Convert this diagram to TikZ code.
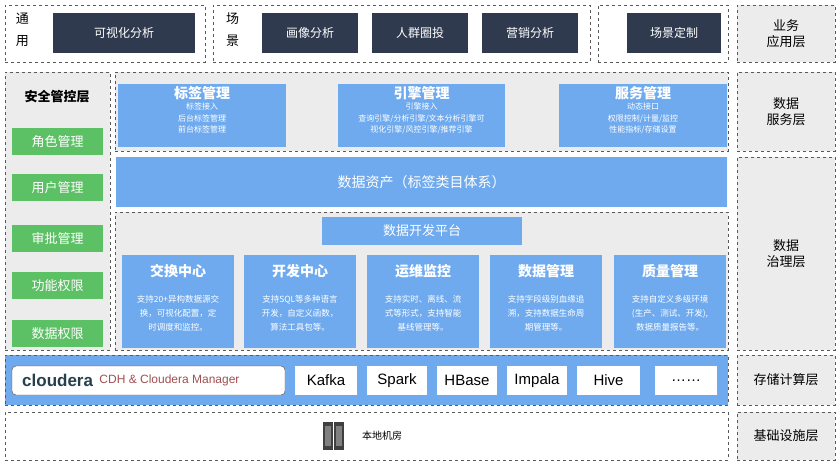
\documentclass[tikz,border=0pt]{standalone}
\usepackage{fontspec}
\setmainfont{Noto Sans CJK SC}
\newfontfamily\latinf{Liberation Sans}
\begin{document}
\begin{tikzpicture}[x=1pt,y=-1pt,
 box/.style={anchor=north west,inner sep=0pt,outer sep=0pt,align=center},
 dbox/.style={box,draw=gray!70!black,dashed,line width=0.6pt},
 layer/.style={dbox,fill=gray!15,font=\fontsize{13}{16}\selectfont},
 navy/.style={box,fill={rgb,255:red,47;green,58;blue,79},text=white,font=\fontsize{12}{14}\selectfont},
 bluebox/.style={box,fill={rgb,255:red,111;green,170;blue,239},text=white},
 green/.style={box,fill={rgb,255:red,92;green,192;blue,101},text=white,font=\fontsize{13}{16}\selectfont},
 ttl/.style={anchor=north,inner sep=0pt,text=white,align=center,font=\fontsize{14}{16}\selectfont\bfseries},
 sub/.style={anchor=north,inner sep=0pt,text=white,align=center,font=\fontsize{8}{11.5}\selectfont},
 wbox/.style={box,fill=white,font=\latinf\fontsize{15}{18}\selectfont}]
\useasboundingbox (0,0) rectangle (840,464);
% top row
\node[dbox,minimum width=200,minimum height=57] (g1) at (5,5) {};
\node[box,font=\fontsize{13}{16}\selectfont] (t1) at (16,13) {通\\[6pt]用};
\node[navy,minimum width=142,minimum height=40] (v) at (53,13) {可视化分析};
\node[dbox,minimum width=377,minimum height=57] (g2) at (213,5) {};
\node[box,font=\fontsize{13}{16}\selectfont] (t2) at (226,13) {场\\[6pt]景};
\node[navy,minimum width=96,minimum height=40] (p1) at (262,13) {画像分析};
\node[navy,minimum width=96,minimum height=40] (p2) at (372,13) {人群圈投};
\node[navy,minimum width=96,minimum height=40] (p3) at (482,13) {营销分析};
\node[dbox,minimum width=130,minimum height=57] (g3) at (598,5) {};
\node[navy,minimum width=94,minimum height=40] (p4) at (627,13) {场景定制};
\node[layer,minimum width=98,minimum height=57] (L1) at (737,5) {业务\\应用层};
% left security
\node[dbox,fill=gray!15,minimum width=105,minimum height=278] (sec) at (5,72) {};
\node[box,font=\bfseries\fontsize{13}{16}\selectfont,anchor=center] (sect) at (57,97) {安全管控层};
\node[green,minimum width=91,minimum height=27] (s1) at (12,128) {角色管理};
\node[green,minimum width=91,minimum height=27] (s2) at (12,174) {用户管理};
\node[green,minimum width=91,minimum height=27] (s3) at (12,225) {审批管理};
\node[green,minimum width=91,minimum height=27] (s4) at (12,272) {功能权限};
\node[green,minimum width=91,minimum height=27] (s5) at (12,320) {数据权限};
% service layer
\node[dbox,fill=gray!15,minimum width=613,minimum height=79] (svc) at (115,72) {};
\node[bluebox,minimum width=168,minimum height=63] (b1) at (118,84) {};
\node[ttl] (b1t) at ([yshift=-2]b1.north) {标签管理};
\node[sub] at ([yshift=-3]b1t.south) {标签接入\\后台标签管理\\前台标签管理};
\node[bluebox,minimum width=167,minimum height=63] (b2) at (338,84) {};
\node[ttl] (b2t) at ([yshift=-2]b2.north) {引擎管理};
\node[sub] at ([yshift=-3]b2t.south) {引擎接入\\查询引擎/分析引擎/文本分析引擎可\\视化引擎/风控引擎/推荐引擎};
\node[bluebox,minimum width=168,minimum height=63] (b3) at (559,84) {};
\node[ttl] (b3t) at ([yshift=-2]b3.north) {服务管理};
\node[sub] at ([yshift=-3]b3t.south) {动态接口\\权限控制/计量/监控\\性能指标/存储设置};
\node[layer,minimum width=98,minimum height=79] (L2) at (737,72) {数据\\服务层};
% data asset
\node[bluebox,minimum width=611,minimum height=50,font=\fontsize{14}{16}\selectfont] (da) at (116,157) {数据资产（标签类目体系）};
% governance
\node[dbox,fill=gray!15,minimum width=613,minimum height=138] (gov) at (115,212) {};
\node[bluebox,minimum width=200,minimum height=28,font=\fontsize{13}{15}\selectfont] (dev) at (322,217) {数据开发平台};
\foreach \x/\nm/\t/\d in {122/c1/交换中心/{支持20+异构数据源交\\换，可视化配置，定\\时调度和监控。},
  244/c2/开发中心/{支持SQL等多种语言\\开发，自定义函数，\\算法工具包等。},
  367/c3/运维监控/{支持实时、离线、流\\式等形式，支持智能\\基线管理等。},
  490/c4/数据管理/{支持字段级别血缘追\\溯，支持数据生命周\\期管理等。},
  614/c5/质量管理/{支持自定义多级环境\\(生产、测试、开发),\\数据质量报告等。}}{
 \node[bluebox,minimum width=112,minimum height=93] (\nm) at (\x,255) {};
 \node[ttl,font=\fontsize{14}{16}\selectfont\bfseries] at ([yshift=-9]\nm.north) {\t};
 \node[sub,font=\fontsize{8.5}{14}\selectfont] at ([yshift=-40]\nm.north) {\d};
}
\node[layer,minimum width=98,minimum height=193] (L3) at (737,157) {数据\\治理层};
% storage
\node[dbox,fill={rgb,255:red,111;green,170;blue,239},minimum width=723,minimum height=50] (st) at (5,355) {};
\node[box,fill=white,draw=black!70,rounded corners=4pt,minimum width=273,minimum height=29] (cl) at (12,366) {};
\node[anchor=west,inner sep=0pt,font=\latinf\bfseries\fontsize{17}{18}\selectfont,text={rgb,255:red,38;green,64;blue,77}] (clt) at ([xshift=10]cl.west) {cloudera};
\node[anchor=west,inner sep=0pt,font=\latinf\fontsize{12}{14}\selectfont,text={rgb,255:red,160;green,80;blue,80}] at ([xshift=6]clt.east) {CDH \& Cloudera Manager};
\node[wbox,minimum width=62,minimum height=29] (k1) at (295,366) {Kafka};
\node[wbox,minimum width=60,minimum height=29] (k2) at (367,366) {Spark};
\node[wbox,minimum width=60,minimum height=29] (k3) at (437,366) {HBase};
\node[wbox,minimum width=60,minimum height=29] (k4) at (507,366) {Impala};
\node[wbox,minimum width=63,minimum height=29] (k5) at (577,366) {Hive};
\node[wbox,minimum width=62,minimum height=29] (k6) at (655,366) {……};
\node[layer,minimum width=98,minimum height=50] (L4) at (737,355) {存储计算层};
% infra
\node[dbox,minimum width=723,minimum height=48] (inf) at (5,412) {};
\foreach \dx in {0,11}{
 \fill[black!75] (323+\dx,422) rectangle (333+\dx,450);
 \fill[black!50] (325+\dx,426) rectangle (331+\dx,446);}
\node[anchor=west,inner sep=0pt,font=\fontsize{10}{12}\selectfont] (inft) at (362,436) {本地机房};
\node[layer,minimum width=98,minimum height=48] (L5) at (737,412) {基础设施层};
\end{tikzpicture}
\end{document}
